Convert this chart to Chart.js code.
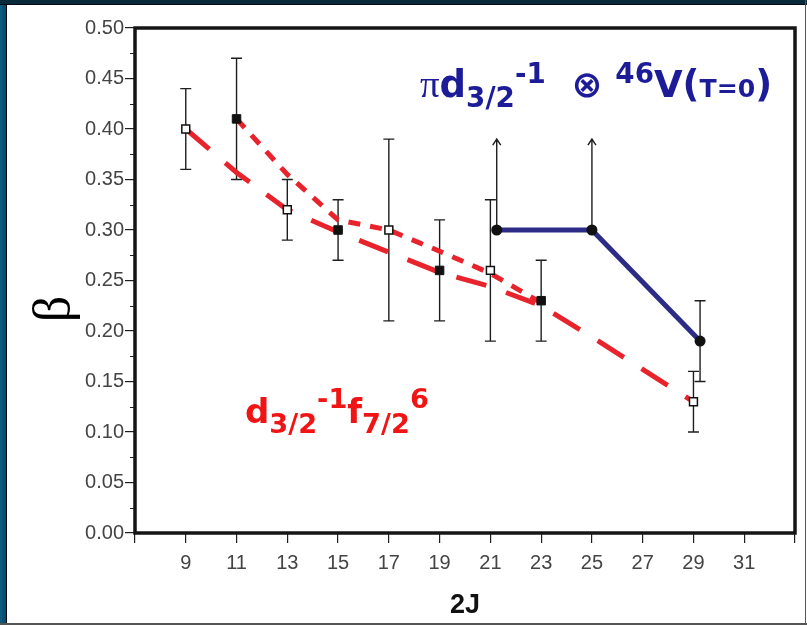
<!DOCTYPE html>
<html lang="en">
<head>
<meta charset="UTF-8">
<title>beta vs 2J</title>
<script src="https://cdn.jsdelivr.net/npm/chart.js"></script>
<style>
  html, body { margin: 0; padding: 0; background: #fff; }
  #wrap { position: relative; width: 807px; height: 625px; overflow: hidden; background: #fff; }
  #chart { position: absolute; left: 0; top: 0; }
  .frame-left { position: absolute; left: 0; top: 0; width: 6px; height: 625px;
    background: linear-gradient(to right, #0e5f83, #0a4664); border-right: 1px solid #0b0b14; }
  .frame-top { position: absolute; left: 0; top: 0; width: 807px; height: 4px;
    background: #082a3b; border-bottom: 1px solid #0b0b14; }
  .frame-right { position: absolute; right: 1px; top: 0; width: 1px; height: 625px; background: #555; }
  .frame-bottom { position: absolute; left: 0; bottom: 0; width: 807px; height: 2px; background: #555; }
  .lbl { position: absolute; white-space: nowrap; font-weight: bold; line-height: 1; }
  .lbl sub, .lbl sup { line-height: 0; position: relative; vertical-align: baseline; }
  #blue { left: 420px; top: 65px; color: #1c1c98; font-family: "DejaVu Sans", sans-serif; font-size: 37px; }
  #blue sub, #blue sup { font-size: 0.75em; }
  #blue sub { top: 0.36em; }
  #blue sup { top: -0.52em; }
  #blue .pi { font-family: "Liberation Serif", serif; font-weight: normal; font-size: 1.05em; }
  #blue .sm { font-size: 0.68em; }
  #red { left: 245px; top: 394px; color: #f01414; font-family: "DejaVu Sans", sans-serif; font-size: 34px; }
  #red sub, #red sup { font-size: 0.8em; }
  #red sub { top: 0.38em; }
  #red sup { top: -0.55em; }
  #beta { left: 22px; top: 279px; width: 60px; height: 60px; line-height: 60px; text-align: center;
    font-family: "Liberation Serif", serif; font-size: 52px; font-weight: normal; color: #000;
    transform: rotate(-90deg); }
</style>
</head>
<body>
<div id="wrap">
  <canvas id="chart" width="807" height="625"></canvas>
  <div class="frame-left"></div>
  <div class="frame-top"></div>
  <div class="frame-right"></div>
  <div class="frame-bottom"></div>
  <div id="blue" class="lbl"><span class="pi">π</span>d<sub>3/2</sub><sup>-1</sup>&nbsp; ⊗ <sup>46</sup>V(<span class="sm">T=0</span>)</div>
  <div id="red" class="lbl">d<sub>3/2</sub><sup>-1</sup>f<sub>7/2</sub><sup>6</sup></div>
  <div id="beta" class="lbl">β</div>
</div>
<script>
// two calculated curves (red dashed)
const lineAX = [9, 11, 13, 15, 17, 19, 21, 23, 25, 27, 29];
const lineAY = [0.40, 0.357, 0.32, 0.298, 0.278, 0.258, 0.244, 0.225, 0.194, 0.162, 0.13];
const lineBX = [11, 13, 15, 17, 19, 21, 23];
const lineBY = [0.41, 0.355, 0.31, 0.30, 0.279, 0.257, 0.228];

// measured points, open squares
const openX = [9, 13, 17, 21, 29];
const openY = [0.40, 0.32, 0.30, 0.26, 0.13];
const openLo = [0.36, 0.29, 0.21, 0.19, 0.10];
const openHi = [0.44, 0.35, 0.39, 0.33, 0.16];

// measured points, filled squares
const fullX = [11, 15, 19, 23];
const fullY = [0.41, 0.30, 0.26, 0.23];
const fullLo = [0.35, 0.27, 0.21, 0.19];
const fullHi = [0.47, 0.33, 0.31, 0.27];

// blue band; null low = lower limit (arrow)
const blueX = [21.25, 25, 29.26];
const blueY = [0.30, 0.30, 0.19];
const blueLo = [null, null, 0.15];
const blueHi = [0.39, 0.39, 0.23];

const xMin = 7, xMax = 33, xStep = 2;
const yMin = 0, yMax = 0.5, yStep = 0.05;

const pts = (xs, ys) => xs.map((x, i) => ({ x, y: ys[i] }));

const errorBars = {
  id: 'errorBars',
  beforeDatasetsDraw(chart) {
    const { ctx, scales: { x, y } } = chart;
    ctx.save();
    ctx.strokeStyle = '#1e1e1e';
    ctx.lineWidth = 1.4;
    const groups = [[openX, openLo, openHi, openY], [fullX, fullLo, fullHi, fullY], [blueX, blueLo, blueHi, blueY]];
    groups.forEach(([xs, lo, hi, ys]) => {
      xs.forEach((v, i) => {
        const px = x.getPixelForValue(v);
        const top = y.getPixelForValue(hi[i]);
        ctx.beginPath();
        if (lo[i] === null) {
          const base = y.getPixelForValue(ys[i]);
          ctx.moveTo(px, base); ctx.lineTo(px, top);
          ctx.moveTo(px - 4, top + 6); ctx.lineTo(px, top); ctx.lineTo(px + 4, top + 6);
        } else {
          const bot = y.getPixelForValue(lo[i]);
          ctx.moveTo(px, bot); ctx.lineTo(px, top);
          ctx.moveTo(px - 5.5, top); ctx.lineTo(px + 5.5, top);
          ctx.moveTo(px - 5.5, bot); ctx.lineTo(px + 5.5, bot);
        }
        ctx.stroke();
      });
    });
    ctx.restore();
  }
};

const frameAndMinor = {
  id: 'frameAndMinor',
  afterDraw(chart) {
    const { ctx, chartArea: a, scales: { y } } = chart;
    ctx.save();
    ctx.strokeStyle = '#1e1e1e';
    ctx.lineWidth = 1.2;
    ctx.beginPath();
    for (let v = yMin + yStep / 2; v < yMax; v += yStep) {
      const py = Math.round(y.getPixelForValue(v)) + 0.5;
      ctx.moveTo(a.left - 5, py); ctx.lineTo(a.left, py);
    }
    ctx.stroke();
    ctx.lineWidth = 3.5;
    ctx.strokeStyle = '#151515';
    ctx.strokeRect(a.left, a.top, a.right - a.left, a.bottom - a.top);
    ctx.restore();
  }
};

const tickFont = { family: '"Liberation Sans", Arial, sans-serif', size: 20 };

new Chart(document.getElementById('chart'), {
  type: 'scatter',
  data: {
    datasets: [
      { data: pts(openX, openY), pointStyle: 'rect', pointRadius: 5.6, pointBackgroundColor: '#fff',
        pointBorderColor: '#111', pointBorderWidth: 1.5, showLine: false },
      { data: pts(fullX, fullY), pointStyle: 'rect', pointRadius: 6, pointBackgroundColor: '#111',
        pointBorderColor: '#111', pointBorderWidth: 1, showLine: false },
      { data: pts(blueX, blueY), pointStyle: 'circle', pointRadius: 5.5, pointBackgroundColor: '#111',
        pointBorderWidth: 0, showLine: true, borderColor: '#2c2c86', borderWidth: 5 },
      { data: pts(lineBX, lineBY), showLine: true, pointRadius: 0, borderColor: '#e8232b',
        borderWidth: 5, borderDash: [12, 10] },
      { data: pts(lineAX, lineAY), showLine: true, pointRadius: 0, borderColor: '#e8232b',
        borderWidth: 5, borderDash: [31, 21] }
    ]
  },
  options: {
    responsive: false,
    animation: false,
    layout: { padding: { top: 28, right: 12, left: 0, bottom: 0 } },
    plugins: { legend: { display: false }, tooltip: { enabled: false } },
    scales: {
      x: {
        type: 'linear', min: xMin, max: xMax,
        afterFit: s => { s.height = 92; },
        border: { display: false },
        grid: { drawOnChartArea: false, color: '#1e1e1e', tickLength: 10, lineWidth: 1.2 },
        ticks: { stepSize: xStep, padding: 8, color: '#444', font: tickFont,
          callback: v => (v === xMin || v === xMax) ? '' : v },
        title: { display: true, text: '2J', color: '#111', padding: { top: 0, bottom: 3 },
          font: { family: '"Liberation Sans", Arial, sans-serif', size: 27, weight: 'bold' } }
      },
      y: {
        min: yMin, max: yMax,
        afterFit: s => { s.width = 135; },
        border: { display: false },
        grid: { drawOnChartArea: false, color: '#1e1e1e', tickLength: 10, lineWidth: 1.2 },
        ticks: { stepSize: yStep, padding: 1, color: '#444', font: tickFont,
          callback: v => v.toFixed(2) }
      }
    }
  },
  plugins: [errorBars, frameAndMinor]
});
</script>
</body>
</html>
